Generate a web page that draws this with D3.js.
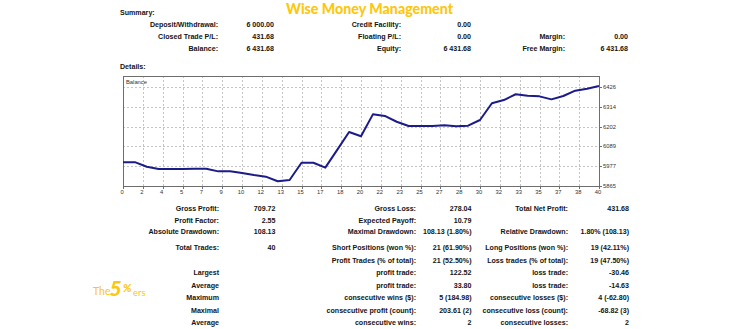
<!DOCTYPE html>
<html>
<head>
<meta charset="utf-8">
<script src="https://cdn.jsdelivr.net/npm/d3@7"></script>
<style>
html,body{margin:0;padding:0;background:#fff;}
svg{display:block;}
</style>
</head>
<body>
<svg id="c" width="741" height="329"></svg>
<script>
// ---------- data ----------
const trades = d3.range(0, 41);
const balance = [6000, 6000, 5974, 5961, 5961, 5961, 5963, 5963, 5948, 5948,
  5939, 5927, 5918, 5891.87, 5899, 5997, 5997, 5969, 6070, 6171,
  6147, 6271, 6262, 6229, 6205, 6205, 6205, 6209, 6203, 6207,
  6239, 6334, 6352, 6385, 6377, 6373, 6356, 6375, 6405, 6416, 6431.68];
const xTickLabels = ["0","2","4","5","7","9","10","12","13","15","17","18","20","22","23","25","27","28","30","32","33","35","37","38","40"];
const yTickValues = [5865, 5977, 6089, 6202, 6314, 6426];

const summaryRows = [
  ["Deposit/Withdrawal:", "6 000.00", "Credit Facility:", "0.00", "", ""],
  ["Closed Trade P/L:", "431.68", "Floating P/L:", "0.00", "Margin:", "0.00"],
  ["Balance:", "6 431.68", "Equity:", "6 431.68", "Free Margin:", "6 431.68"]
];
const detailRowsA = [
  ["Gross Profit:", "709.72", "Gross Loss:", "278.04", "Total Net Profit:", "431.68"],
  ["Profit Factor:", "2.55", "Expected Payoff:", "10.79", "", ""],
  ["Absolute Drawdown:", "108.13", "Maximal Drawdown:", "108.13 (1.80%)", "Relative Drawdown:", "1.80% (108.13)"]
];
const detailRowsB = [
  ["Total Trades:", "40", "Short Positions (won %):", "21 (61.90%)", "Long Positions (won %):", "19 (42.11%)"],
  ["", "", "Profit Trades (% of total):", "21 (52.50%)", "Loss trades (% of total):", "19 (47.50%)"],
  ["Largest", "", "profit trade:", "122.52", "loss trade:", "-30.46"],
  ["Average", "", "profit trade:", "33.80", "loss trade:", "-14.63"],
  ["Maximum", "", "consecutive wins ($):", "5 (184.98)", "consecutive losses ($):", "4 (-62.80)"],
  ["Maximal", "", "consecutive profit (count):", "203.61 (2)", "consecutive loss (count):", "-68.82 (3)"],
  ["Average", "", "consecutive wins:", "2", "consecutive losses:", "2"]
];

// ---------- drawing ----------
(function () {
const svg = d3.select("#c");
const FONT = "'Liberation Sans', Arial, sans-serif";
const TXT = "#141414";
const GOLD = "#FDC70C";

function label(x, y, s, anchor, opts) {
  opts = opts || {};
  return svg.append("text")
    .attr("x", x).attr("y", y)
    .attr("text-anchor", anchor || "end")
    .attr("font-family", opts.family || FONT)
    .attr("font-size", opts.size || 7.1)
    .attr("font-weight", opts.weight || "bold")
    .attr("fill", opts.fill || TXT)
    .text(s);
}

// Title
svg.append("text")
  .attr("x", 286).attr("y", 14)
  .attr("font-family", "Lato, 'Open Sans', sans-serif")
  .attr("font-weight", 900)
  .attr("font-size", 15)
  .attr("fill", GOLD)
  .attr("textLength", 167).attr("lengthAdjust", "spacingAndGlyphs")
  .text("Wise Money Management");

// Summary
label(120, 14.5, "Summary:", "start");
const sumCols = [218, 274, 401, 471, 565, 628];
summaryRows.forEach((row, i) => {
  const yy = 26.5 + i * 12.2;
  row.forEach((s, j) => { if (s) label(sumCols[j], yy, s, "end"); });
});

label(120, 68.5, "Details:", "start");

// Details tables
const detCols = [219, 275.5, 416, 471.5, 568, 629];
detailRowsA.forEach((row, i) => {
  const yy = 211 + i * 11.6;
  row.forEach((s, j) => { if (s) label(detCols[j], yy, s, "end"); });
});
detailRowsB.forEach((row, i) => {
  const yy = 250 + i * 12.5;
  row.forEach((s, j) => { if (s) label(detCols[j], yy, s, "end"); });
});

// ---------- chart ----------
const pL = 123, pR = 599, pT = 76, pB = 186;
const x = d3.scaleLinear().domain([0, 40]).range([pL, pR]);
const y = d3.scaleLinear().domain([5865, 6426]).range([186, 87]);

const g = svg.append("g");
const n = xTickLabels.length - 1;
const xTickPos = xTickLabels.map((d, i) => x(i * 40 / n));
g.selectAll("line.vg").data(xTickPos.slice(1, -1)).join("line")
  .attr("x1", d => Math.round(d) + 0.5).attr("x2", d => Math.round(d) + 0.5)
  .attr("y1", pT).attr("y2", pB)
  .attr("stroke", "#c4c4c4").attr("stroke-width", 1)
  .attr("stroke-dasharray", "2,2");
g.selectAll("line.hg").data(yTickValues.slice(1)).join("line")
  .attr("x1", pL).attr("x2", pR)
  .attr("y1", d => Math.round(y(d)) + 0.5).attr("y2", d => Math.round(y(d)) + 0.5)
  .attr("stroke", "#c4c4c4").attr("stroke-width", 1)
  .attr("stroke-dasharray", "2,2");

g.append("rect")
  .attr("x", pL + 0.5).attr("y", pT + 0.5)
  .attr("width", pR - pL).attr("height", pB - pT)
  .attr("fill", "none").attr("stroke", "#6e6e6e").attr("stroke-width", 1);

g.selectAll("line.xt").data(xTickPos).join("line")
  .attr("x1", d => Math.round(d) + 0.5).attr("x2", d => Math.round(d) + 0.5)
  .attr("y1", pB).attr("y2", pB + 3)
  .attr("stroke", "#6e6e6e");
g.selectAll("text.xl").data(xTickLabels).join("text")
  .attr("x", (d, i) => xTickPos[i] - 1)
  .attr("y", 194)
  .attr("text-anchor", "middle")
  .attr("font-family", FONT).attr("font-size", 5.8)
  .attr("fill", "#333")
  .text(d => d);

g.selectAll("line.yt").data(yTickValues).join("line")
  .attr("x1", pR).attr("x2", pR + 3)
  .attr("y1", d => Math.round(y(d)) + 0.5).attr("y2", d => Math.round(y(d)) + 0.5)
  .attr("stroke", "#6e6e6e");
g.selectAll("text.yl").data(yTickValues).join("text")
  .attr("x", 603)
  .attr("y", d => y(d) + 2)
  .attr("font-family", FONT).attr("font-size", 5.8)
  .attr("fill", "#333")
  .text(d => d);

g.append("text").attr("x", 126).attr("y", 84)
  .attr("font-family", FONT).attr("font-size", 5.8).attr("fill", "#333")
  .text("Balance");

g.append("path")
  .datum(balance)
  .attr("d", d3.line().x((d, i) => x(trades[i])).y(d => y(d)))
  .attr("fill", "none")
  .attr("stroke", "#1b1b8a")
  .attr("stroke-width", 2)
  .attr("stroke-linejoin", "round");

// ---------- logo ----------
const logo = svg.append("g");
logo.append("text").attr("x", 93).attr("y", 295)
  .attr("font-family", "Lato, sans-serif").attr("font-size", 10.5).attr("fill", GOLD)
  .text("The");
logo.append("text").attr("x", 109.5).attr("y", 296)
  .attr("font-family", "Lato, sans-serif").attr("font-size", 21)
  .attr("font-weight", 900).attr("font-style", "italic").attr("fill", GOLD)
  .text("5");
logo.append("text").attr("x", 123).attr("y", 292)
  .attr("font-family", "Lato, sans-serif").attr("font-size", 11)
  .attr("font-weight", 900).attr("font-style", "italic").attr("fill", GOLD)
  .text("%");
logo.append("text").attr("x", 133).attr("y", 296)
  .attr("font-family", "Lato, sans-serif").attr("font-size", 9.5).attr("fill", GOLD)
  .text("ers");
})();
</script>
</body>
</html>
